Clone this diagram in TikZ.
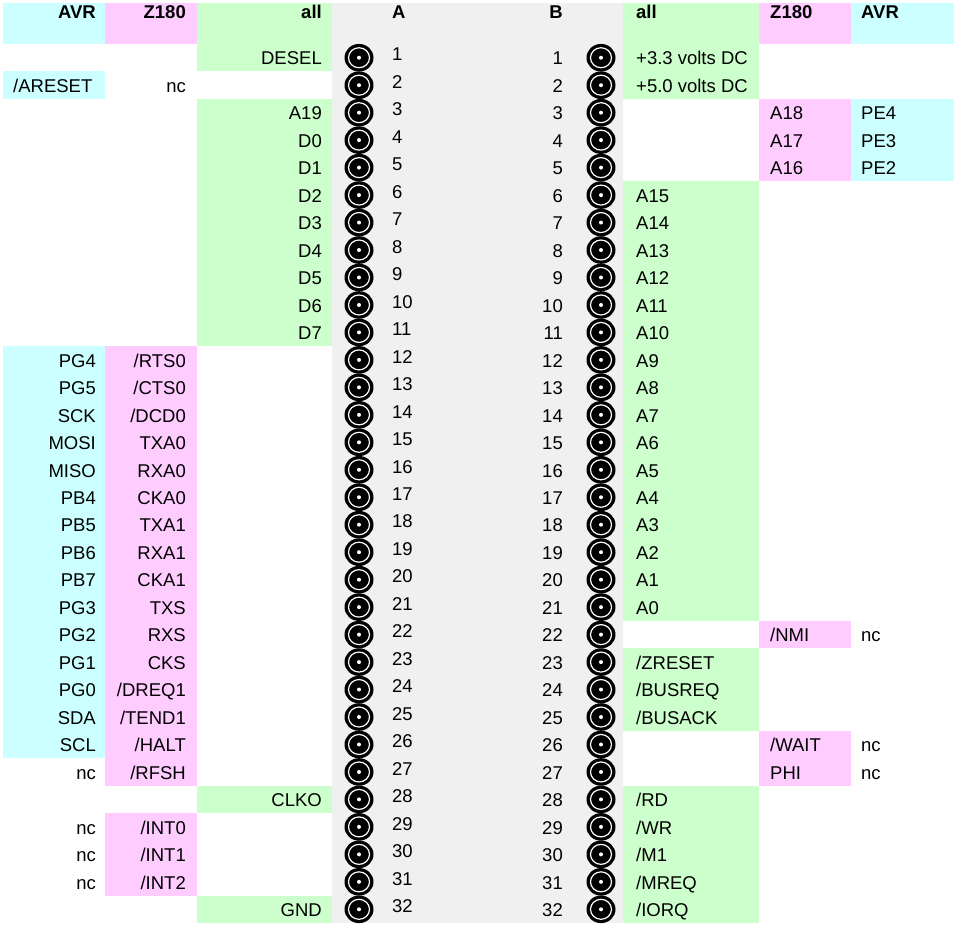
\documentclass[tikz,border=0pt]{standalone}
\usepackage{fontspec}
\setmainfont{Liberation Sans}
\definecolor{avrcyan}{HTML}{CCFFFF}
\definecolor{zpink}{HTML}{FFCCFF}
\definecolor{allgreen}{HTML}{CCFFCC}
\definecolor{slotgray}{HTML}{F0F0F0}
\tikzset{
	lcell/.style={anchor=base east, inner sep=0pt, font=\fontsize{18.5}{20}\selectfont},
	rcell/.style={anchor=base west, inner sep=0pt, font=\fontsize{18.5}{20}\selectfont},
	head/.style={font=\fontsize{18.5}{20}\selectfont\bfseries},
	socket/.pic={
		\fill[black] (0,0) ellipse [x radius=14.5pt, y radius=13.8pt];
		\draw[white, line width=1.2pt] (0,0) ellipse [x radius=10.5pt, y radius=10pt];
		\fill[white] (0,0) circle [radius=2pt];
	}
}
\begin{document}
\begin{tikzpicture}[x=1pt, y=-27.47pt]
		\useasboundingbox (0,-1.6017) rectangle (958,32.181);
		% slot
		\fill[slotgray] (332,-1.4925) rectangle (623,32);
		% left side cells
		\fill[avrcyan] (3,-1.4925) rectangle (105,0);
		\fill[avrcyan] (3,1) rectangle (105,2);
		\fill[avrcyan] (3,11) rectangle (105,26);
		\fill[zpink] (105,-1.4925) rectangle (197,0);
		\fill[zpink] (105,11) rectangle (197,27);
		\fill[zpink] (105,28) rectangle (197,31);
		\fill[allgreen] (197,-1.4925) rectangle (332,1);
		\fill[allgreen] (197,2) rectangle (332,11);
		\fill[allgreen] (197,27) rectangle (332,28);
		\fill[allgreen] (197,31) rectangle (332,32);
		% right side cells
		\fill[allgreen] (623,-1.4925) rectangle (759,2);
		\fill[allgreen] (623,5) rectangle (759,21);
		\fill[allgreen] (623,22) rectangle (759,25);
		\fill[allgreen] (623,27) rectangle (759,32);
		\fill[zpink] (759,-1.4925) rectangle (851,0);
		\fill[zpink] (759,2) rectangle (851,5);
		\fill[zpink] (759,21) rectangle (851,22);
		\fill[zpink] (759,25) rectangle (851,27);
		\fill[avrcyan] (851,-1.4925) rectangle (954,0);
		\fill[avrcyan] (851,2) rectangle (954,5);
		
		% headings
		\node[lcell, head] (hlavr) at (96,-0.91) {AVR};
		\node[lcell, head] (hlz) at (186,-0.91) {Z180};
		\node[lcell, head] (hlall) at (322,-0.91) {all};
		\node[rcell, head] (ha) at (392,-0.91) {A};
		\node[lcell, head] (hb) at (563,-0.91) {B};
		\node[rcell, head] (hrall) at (636,-0.91) {all};
		\node[rcell, head] (hrz) at (770,-0.91) {Z180};
		\node[rcell, head] (hravr) at (861,-0.91) {AVR};
		
		% sockets and pin numbers
		\foreach \r in {1,...,32} {
			\coordinate (pa-\r) at (359,\r-0.5);
			\coordinate (pb-\r) at (601,\r-0.5);
			\pic at (pa-\r) {socket};
			\pic at (pb-\r) {socket};
			\node[rcell] (na-\r) at (392,\r-0.381) {\r};
			\node[lcell] (nb-\r) at (563,\r-0.236) {\r};
		}
		
		% side A
		\foreach \r/\t in {1/DESEL,3/A19,4/D0,5/D1,6/D2,7/D3,8/D4,9/D5,10/D6,11/D7,28/CLKO,32/GND}
			\node[lcell] (la-\r) at (322,\r-0.236) {\t};
		\foreach \r/\t in {2/nc,12/{/RTS0},13/{/CTS0},14/{/DCD0},15/TXA0,16/RXA0,17/CKA0,18/TXA1,19/RXA1,20/CKA1,21/TXS,22/RXS,23/CKS,24/{/DREQ1},25/{/TEND1},26/{/HALT},27/{/RFSH},29/{/INT0},30/{/INT1},31/{/INT2}}
			\node[lcell] (lz-\r) at (186,\r-0.236) {\t};
		\foreach \r/\t in {12/PG4,13/PG5,14/SCK,15/MOSI,16/MISO,17/PB4,18/PB5,19/PB6,20/PB7,21/PG3,22/PG2,23/PG1,24/PG0,25/SDA,26/SCL,27/nc,29/nc,30/nc,31/nc}
			\node[lcell] (lv-\r) at (96,\r-0.236) {\t};
		\node[rcell] (lv-2) at (13,2-0.236) {/ARESET};
		
		% side B
		\foreach \r/\t in {1/{+3.3 volts DC},2/{+5.0 volts DC},6/A15,7/A14,8/A13,9/A12,10/A11,11/A10,12/A9,13/A8,14/A7,15/A6,16/A5,17/A4,18/A3,19/A2,20/A1,21/A0,23/{/ZRESET},24/{/BUSREQ},25/{/BUSACK},28/{/RD},29/{/WR},30/{/M1},31/{/MREQ},32/{/IORQ}}
			\node[rcell] (ra-\r) at (636,\r-0.236) {\t};
		\foreach \r/\t in {3/A18,4/A17,5/A16,22/{/NMI},26/{/WAIT},27/PHI}
			\node[rcell] (rz-\r) at (770,\r-0.236) {\t};
		\foreach \r/\t in {3/PE4,4/PE3,5/PE2,22/nc,26/nc,27/nc}
			\node[rcell] (rv-\r) at (861,\r-0.236) {\t};
	\end{tikzpicture}
\end{document}
